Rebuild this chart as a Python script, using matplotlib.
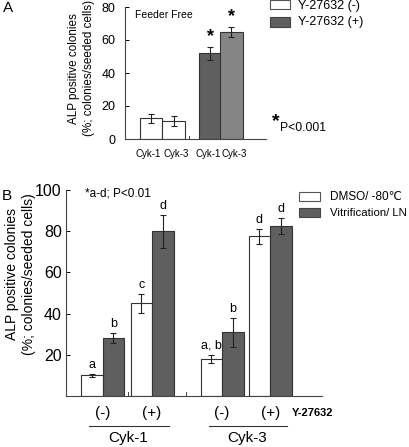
import matplotlib
matplotlib.use("Agg")
import matplotlib.pyplot as plt
from matplotlib.patches import Rectangle

plt.rcParams['font.family'] = ['Liberation Sans', 'DejaVu Sans']

# ---- Panel A data ----
a_labels = ["Cyk-1", "Cyk-3", "Cyk-1", "Cyk-3"]
a_values = [12.5, 11.0, 52.0, 65.0]
a_errors = [2.5, 3.0, 4.0, 3.0]
a_legend = ["Y-27632 (-)", "Y-27632 (+)"]
a_yticks = [0, 20, 40, 60, 80]

# ---- Panel B data ----
b_dmso = [10.0, 45.0, 18.0, 77.5]
b_dmso_err = [0.6, 4.5, 2.0, 3.5]
b_vit = [28.0, 80.0, 31.0, 82.5]
b_vit_err = [2.5, 8.0, 7.0, 4.0]
b_dmso_sig = ["a", "c", "a, b", "d"]
b_vit_sig = ["b", "d", "b", "d"]
b_treat = ["(-)", "(+)", "(-)", "(+)"]
b_lines = ["Cyk-1", "Cyk-3"]
b_legend = ["DMSO/ -80\u2103", "Vitrification/ LN"]
b_yticks = [20, 40, 60, 80, 100]

ylab_lines = ["ALP positive colonies", "(%; colonies/seeded cells)"]

W, H = 410, 447
fig = plt.figure(figsize=(W / 100, H / 100), dpi=100)

def fx(px):
    return px / W

def fy(py):
    return 1 - py / H

# ================= Panel A =================
axA = fig.add_axes([fx(125), fy(139), fx(266) - fx(125), fy(7) - fy(139)])
a_pos = [1.16, 2.16, 3.78, 4.73]
a_lab_pos = [1.02, 2.29, 3.71, 4.84]
a_colors = ["white", "white", "#5f5f5f", "#858585"]
axA.bar(a_pos, a_values, width=1.0, color=a_colors, edgecolor="#333333", linewidth=0.8,
        yerr=a_errors, error_kw=dict(ecolor="#222222", elinewidth=0.8, capsize=2.5, capthick=0.8))
axA.set_xlim(0, 6.27)
axA.set_ylim(0, 80)
axA.set_yticks(a_yticks)
axA.set_yticklabels([str(v) for v in a_yticks], fontsize=9)
axA.set_xticks(a_lab_pos)
axA.set_xticklabels(a_labels, fontsize=7)
axA.tick_params(axis='x', length=0, pad=7)
axA.tick_params(axis='y', direction='in', length=3, width=0.7, pad=7)
for s in ["top", "right"]:
    axA.spines[s].set_visible(False)
for s in ["left", "bottom"]:
    axA.spines[s].set_linewidth(0.8)
    axA.spines[s].set_color("#444444")
axA.plot([2.85, 2.85], [0, 2.0], color="#444444", lw=0.7)
for x, v, e in zip(a_pos[2:], a_values[2:], a_errors[2:]):
    axA.text(x, v + e + 1.0, "*", ha="center", va="bottom", fontsize=13, fontweight="bold")
axA.text(0.45, 75, "Feeder Free", fontsize=7.5, va="center", ha="left")
for xc, line in zip([74, 89], ylab_lines):
    fig.text(fx(xc), fy(68.5), line, rotation=90, ha="center", va="center", fontsize=8.4)

fig.text(fx(3), fy(8), "A", fontsize=11, va="center", ha="left")
# legend A
fig.patches.append(Rectangle((fx(270), fy(9)), fx(290) - fx(270), fy(0) - fy(9),
                             transform=fig.transFigure, facecolor="white", edgecolor="#555555", lw=0.8))
fig.patches.append(Rectangle((fx(270), fy(27)), fx(290) - fx(270), fy(17) - fy(27),
                             transform=fig.transFigure, facecolor="#5f5f5f", edgecolor="#444444", lw=0.8))
fig.text(fx(298), fy(5.5), a_legend[0], fontsize=9, va="center", ha="left")
fig.text(fx(298), fy(22), a_legend[1], fontsize=9, va="center", ha="left")
fig.text(fx(272), fy(122), "*", fontsize=14, fontweight="bold", va="center", ha="left")
fig.text(fx(280), fy(128), "P<0.001", fontsize=8.8, va="center", ha="left")

# ================= Panel B =================
axB = fig.add_axes([fx(66), fy(396), fx(322) - fx(66), fy(190) - fy(396)])
bw = 1.0
centers = [1.70, 4.0, 7.26, 9.49]
xd = [c - bw / 2 for c in centers]
xv = [c + bw / 2 for c in centers]
axB.bar(xd, b_dmso, width=bw, color="white", edgecolor="#333333", linewidth=0.8,
        yerr=b_dmso_err, error_kw=dict(ecolor="#222222", elinewidth=0.8, capsize=2.5, capthick=0.8))
axB.bar(xv, b_vit, width=bw, color="#5f5f5f", edgecolor="#333333", linewidth=0.8,
        yerr=b_vit_err, error_kw=dict(ecolor="#222222", elinewidth=0.8, capsize=2.5, capthick=0.8))
for x, v, e, s in zip(xd, b_dmso, b_dmso_err, b_dmso_sig):
    axB.text(x, v + e + 1.5, s, ha="center", va="bottom", fontsize=9)
for x, v, e, s in zip(xv, b_vit, b_vit_err, b_vit_sig):
    axB.text(x, v + e + 1.5, s, ha="center", va="bottom", fontsize=9)
axB.set_xlim(0, 11.9)
axB.set_ylim(0, 100)
axB.set_yticks(b_yticks)
axB.set_yticklabels([str(v) for v in b_yticks], fontsize=11.5)
axB.set_xticks([])
axB.tick_params(axis='y', direction='in', length=3, width=0.7, pad=3)
for s in ["top", "right"]:
    axB.spines[s].set_visible(False)
for s in ["left", "bottom"]:
    axB.spines[s].set_linewidth(0.8)
    axB.spines[s].set_color("#444444")
for xm in [2.87, 5.58]:
    axB.plot([xm, xm], [0, 1.8], color="#444444", lw=0.7)
for xc, line in zip([12, 29], ylab_lines):
    fig.text(fx(xc), fy(274), line, rotation=90, ha="center", va="center", fontsize=10)

# treatment labels beneath
for c, t in zip(centers, b_treat):
    axB.text(c, -8.3, t, ha="center", va="center", fontsize=11, clip_on=False)
axB.text(10.5, -8.3, "Y-27632", ha="left", va="center", fontsize=8, fontweight="bold", clip_on=False)
for (c1, c2), lab in zip([(centers[0], centers[1]), (centers[2], centers[3])], b_lines):
    axB.plot([c1 - 0.62, c2 + 0.77], [-14.6, -14.6], color="#333333", lw=0.8, clip_on=False)
    axB.text((c1 + c2) / 2 + 0.05, -20.5, lab, ha="center", va="center", fontsize=11, clip_on=False)
axB.text(0.9, 98.5, "*a-d; P<0.01", fontsize=8.5, ha="left", va="center")

fig.text(fx(2), fy(196), "B", fontsize=11, va="center", ha="left")
# legend B
fig.patches.append(Rectangle((fx(299), fy(201)), fx(320) - fx(299), fy(192) - fy(201),
                             transform=fig.transFigure, facecolor="white", edgecolor="#555555", lw=0.8))
fig.patches.append(Rectangle((fx(299), fy(217)), fx(320) - fx(299), fy(208) - fy(217),
                             transform=fig.transFigure, facecolor="#5f5f5f", edgecolor="#444444", lw=0.8))
fig.text(fx(330), fy(196.5), b_legend[0], fontsize=8.5, va="center", ha="left")
fig.text(fx(330), fy(213), b_legend[1], fontsize=8.2, va="center", ha="left")

fig.savefig("out.png", dpi=100)
